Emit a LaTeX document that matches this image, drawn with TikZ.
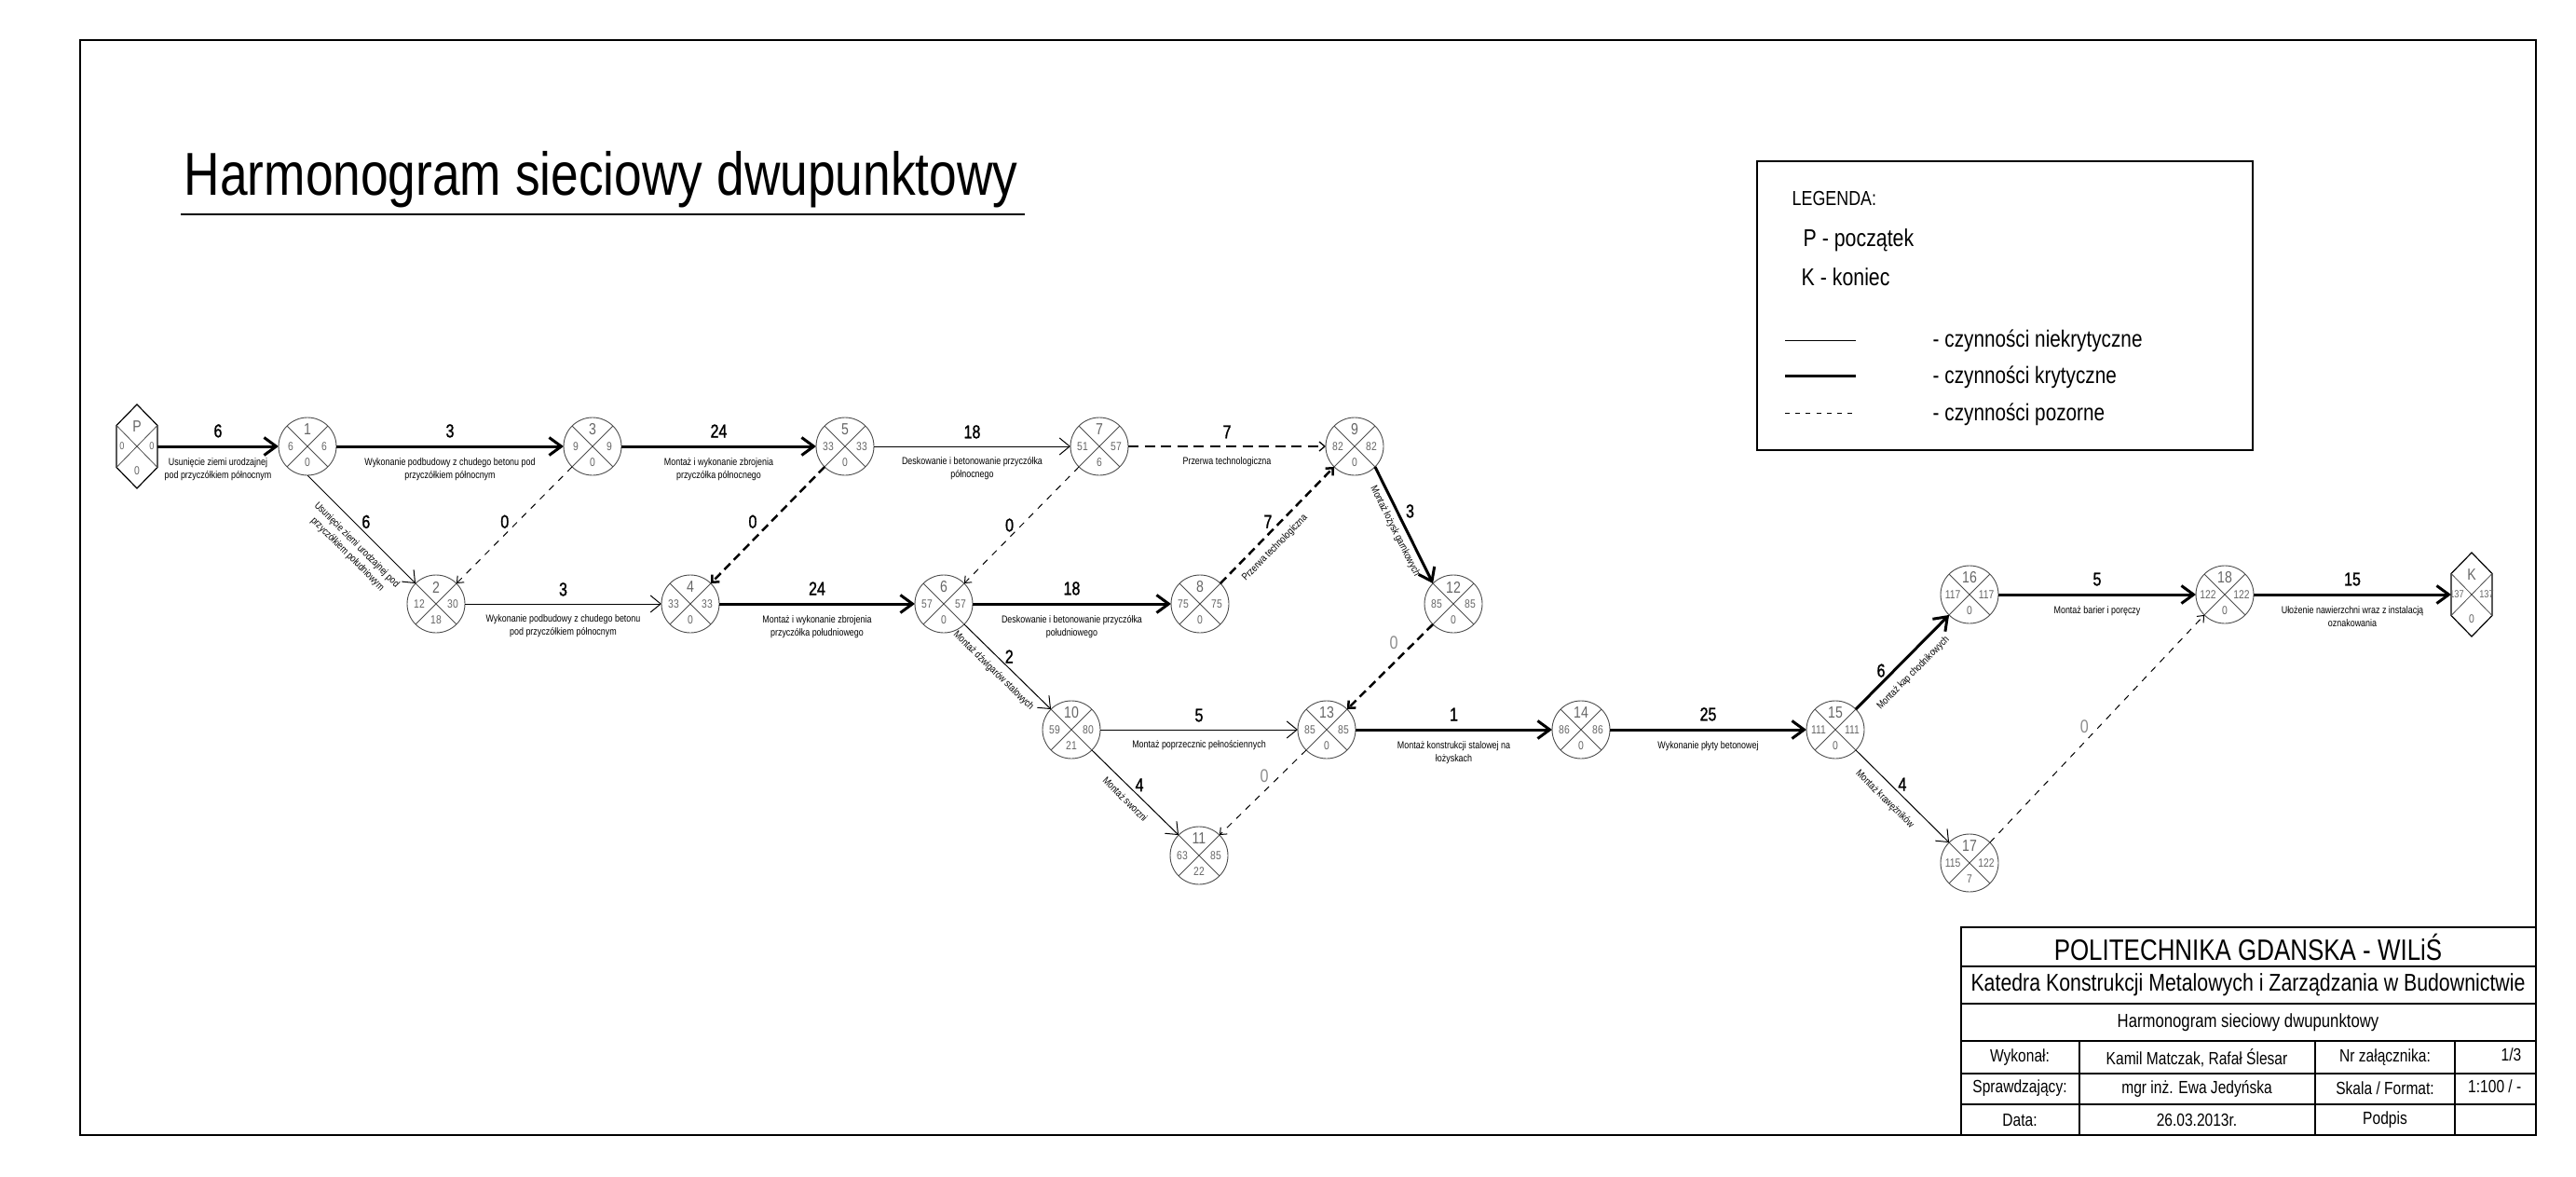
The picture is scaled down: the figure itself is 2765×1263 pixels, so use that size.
\documentclass[tikz,border=0pt]{standalone}
\usepackage{fontspec}
\setmainfont{Liberation Sans}[FakeStretch=0.82]
\newfontfamily\durfont{Liberation Sans}[FakeStretch=0.8, FakeBold=1.2]
\usetikzlibrary{arrows.meta}
\definecolor{evline}{gray}{0.3}
\definecolor{ntxt}{gray}{0.4}
\definecolor{zgray}{gray}{0.55}
\tikzset{
  ev/.style={circle, draw=evline, line width=0.09mm, minimum size=6.2mm, inner sep=0pt, outer sep=0pt},
  xl/.style={draw=evline, line width=0.08mm},
  hexbox/.style={rectangle, minimum width=4.4mm, minimum height=4.5mm, inner sep=0pt, outer sep=0pt},
  hexl/.style={line width=0.12mm, line join=miter},
  ntop/.style={text=ntxt, font=\fontsize{4.9pt}{5pt}\selectfont, inner sep=0pt},
  nval/.style={text=ntxt, font=\fontsize{3.6pt}{4pt}\selectfont, inner sep=0pt},
  kval/.style={text=ntxt, font=\fontsize{3.2pt}{4pt}\selectfont, inner sep=0pt},
  crit/.style={line width=0.3mm, -{Straight Barb[length=1.3mm, width=1.9mm]}},
  ncrit/.style={line width=0.1mm, -{Straight Barb[length=1.1mm, width=1.8mm]}},
  dthin/.style={line width=0.1mm, dash pattern=on 0.7mm off 0.7mm, -{Straight Barb[length=0.6mm, width=1mm]}},
  dthick/.style={line width=0.25mm, dash pattern=on 0.9mm off 0.55mm, -{Straight Barb[length=0.6mm, width=1.1mm]}},
  dmed/.style={line width=0.13mm, dash pattern=on 1.1mm off 0.65mm, -{Straight Barb[length=0.6mm, width=1mm]}},
  dur/.style={font=\durfont\fontsize{5.7pt}{6pt}\selectfont, inner sep=0.8mm},
  zero/.style={font=\fontsize{5.6pt}{6pt}\selectfont, text=zgray},
  desc/.style={font=\fontsize{3.1pt}{4pt}\selectfont, align=center, inner sep=1.1mm},
  sdesc/.style={font=\fontsize{3.1pt}{4pt}\selectfont, align=center, sloped, below},
  leg/.style={anchor=west, inner sep=0pt},
  tb/.style={inner sep=0pt},
}
\newcommand\netnode[7]{%
  \node[ev] (#1) at (#2,#3) {};
  \draw[xl] (#1.45) -- (#1.225) (#1.135) -- (#1.315);
  \node[ntop] (#1t) at (#2,#3-18) {#4};
  \node[nval] (#1l) at (#2-18,#3) {#5};
  \node[nval] (#1r) at (#2+18,#3) {#6};
  \node[nval] (#1b) at (#2,#3+17) {#7};
}
\newcommand\hexnode[7]{%
  \node[hexbox] (#1) at (#2,#3) {};
  \draw[hexl] (#1.north west) -- ++(22,-22.5) -- (#1.north east) -- (#1.south east) -- ++(-22,22.5) -- (#1.south west) -- cycle;
  \draw[xl] (#1.north west) -- (#1.south east) (#1.north east) -- (#1.south west);
  \node[ntop] (#1t) at (#2,#3-21) {#4};
  \node[kval] (#1l) at (#2-16,#3) {#5};
  \node[kval] (#1r) at (#2+16,#3) {#6};
  \node[nval] (#1b) at (#2,#3+26) {#7};
}
\begin{document}
\begin{tikzpicture}[x=0.1mm, y=-0.1mm]
\useasboundingbox (0,0) rectangle (2765,1263);
% frame
\draw[line width=0.15mm] (86,43) rectangle (2722,1218);
% title
\node[anchor=base west, inner sep=0pt, font=\fontsize{18.5pt}{20pt}\selectfont] (title) at (197,209) {Harmonogram sieciowy dwupunktowy};
\coordinate (ula) at (194,230); \coordinate (ulb) at (1100,230);
\draw[line width=0.12mm] (ula) -- (ulb);

% events
\hexnode{P}{147}{479}{P}{0}{0}{0}
\netnode{n1}{330}{479}{1}{6}{6}{0}
\netnode{n3}{636}{479}{3}{9}{9}{0}
\netnode{n5}{907}{479}{5}{33}{33}{0}
\netnode{n7}{1180}{479}{7}{51}{57}{6}
\netnode{n9}{1454}{479}{9}{82}{82}{0}
\netnode{n2}{468}{648}{2}{12}{30}{18}
\netnode{n4}{741}{648}{4}{33}{33}{0}
\netnode{n6}{1013}{648}{6}{57}{57}{0}
\netnode{n8}{1288}{648}{8}{75}{75}{0}
\netnode{n12}{1560}{648}{12}{85}{85}{0}
\netnode{n10}{1150}{783}{10}{59}{80}{21}
\netnode{n13}{1424}{783}{13}{85}{85}{0}
\netnode{n14}{1697}{783}{14}{86}{86}{0}
\netnode{n15}{1970}{783}{15}{111}{111}{0}
\netnode{n11}{1287}{918}{11}{63}{85}{22}
\netnode{n16}{2114}{638}{16}{117}{117}{0}
\netnode{n18}{2388}{638}{18}{122}{122}{0}
\netnode{n17}{2114}{926}{17}{115}{122}{7}
\hexnode{K}{2653}{638}{K}{137}{137}{0}

% horizontal activities
\draw[crit] (P.east) -- node[dur,above] (d01) {6} node[desc,below] (t01) {Usunięcie ziemi urodzajnej\\pod przyczółkiem północnym} (n1.west);
\draw[crit] (n1.east) -- node[dur,above] (d13) {3} node[desc,below] (t13) {Wykonanie podbudowy z chudego betonu pod\\przyczółkiem północnym} (n3.west);
\draw[crit] (n3.east) -- node[dur,above] (d35) {24} node[desc,below] (t35) {Montaż i wykonanie zbrojenia\\przyczółka północnego} (n5.west);
\draw[ncrit] (n5.east) -- node[dur,above] (d57) {18} node[desc,below] (t57) {Deskowanie i betonowanie przyczółka\\północnego} (n7.west);
\draw[dmed] (n7.east) -- node[dur,above] (d79) {7} node[desc,below] (t79) {Przerwa technologiczna} (n9.west);
\draw[ncrit] (n2.east) -- node[dur,above] (d24) {3} node[desc,below] (t24) {Wykonanie podbudowy z chudego betonu\\pod przyczółkiem północnym} (n4.west);
\draw[crit] (n4.east) -- node[dur,above] (d46) {24} node[desc,below] (t46) {Montaż i wykonanie zbrojenia\\przyczółka południowego} (n6.west);
\draw[crit] (n6.east) -- node[dur,above] (d68) {18} node[desc,below] (t68) {Deskowanie i betonowanie przyczółka\\południowego} (n8.west);
\draw[ncrit] (n10.east) -- node[dur,above] (d1013) {5} node[desc,below] (t1013) {Montaż poprzecznic pełnościennych} (n13.west);
\draw[crit] (n13.east) -- node[dur,above] (d1314) {1} node[desc,below] (t1314) {Montaż konstrukcji stalowej na\\łożyskach} (n14.west);
\draw[crit] (n14.east) -- node[dur,above] (d1415) {25} node[desc,below] (t1415) {Wykonanie płyty betonowej} (n15.west);
\draw[crit] (n16.east) -- node[dur,above] (d1618) {5} node[desc,below] (t1618) {Montaż barier i poręczy} (n18.west);
\draw[crit] (n18.east) -- node[dur,above] (d18K) {15} node[desc,below] (t18K) {Ułożenie nawierzchni wraz z instalacją\\oznakowania} (K.west);

% diagonal activities
\draw[ncrit] (n1.south) -- node[dur,pos=0.43,anchor=west] (d12) {6} node[sdesc,pos=0.55,inner sep=1.0mm] (t12) {Usunięcie ziemi urodzajnej pod\\przyczółkiem południowym} (n2.135);
\draw[dthin] (n3.225) -- node[dur,pos=0.47,anchor=east,inner sep=0.9mm] (d32) {0} (n2.45);
\draw[dthick] (n5.225) -- node[dur,pos=0.47,anchor=east,inner sep=1.4mm] (d54) {0} (n4.45);
\draw[dthin] (n7.225) -- node[dur,pos=0.5,anchor=east,inner sep=0.8mm] (d76) {0} (n6.45);
\draw[dthick] (n8.45) -- node[dur,pos=0.53,anchor=east] (d89) {7} node[sdesc,pos=0.39,inner sep=0.9mm] (t89) {Przerwa technologiczna} (n9.225);
\draw[crit] (n9.315) -- node[dur,pos=0.38,anchor=west] (d912) {3} node[sdesc,pos=0.51,inner sep=0.5mm] (t912) {Montaż łożysk garnkowych} (n12.135);
\draw[ncrit] (n6.315) -- node[dur,pos=0.38,anchor=west] (d610) {2} node[sdesc,pos=0.44,inner sep=0.8mm] (t610) {Montaż dźwigarów stalowych} (n10.135);
\draw[ncrit] (n10.315) -- node[dur,pos=0.41,anchor=west] (d1011) {4} node[sdesc,pos=0.48,inner sep=0.8mm] (t1011) {Montaż sworzni} (n11.135);
\draw[dthick] (n12.225) -- node[zero,pos=0.22,anchor=east,inner sep=1.6mm] (d1213) {0} (n13.45);
\draw[dthin] (n13.225) -- node[zero,pos=0.31,anchor=east,inner sep=1.1mm] (d1311) {0} (n11.45);
\draw[crit] (n15.45) -- node[dur,pos=0.41,anchor=east] (d1516) {6} node[sdesc,pos=0.5,inner sep=1.0mm] (t1516) {Montaż kap chodnikowych} (n16.225);
\draw[ncrit] (n15.315) -- node[dur,pos=0.37,anchor=west] (d1517) {4} node[sdesc,pos=0.42,inner sep=1.0mm] (t1517) {Montaż krawężników} (n17.135);
\draw[dthin] (n17.45) -- node[zero,pos=0.51,anchor=east,inner sep=1.1mm] (d1718) {0} (n18.225);

% legend
\draw[line width=0.12mm] (1886,173) rectangle (2418,483);
\node[leg, font=\fontsize{6.2pt}{7pt}\selectfont] (lg0) at (1923,213) {LEGENDA:};
\node[leg, font=\fontsize{7.4pt}{8pt}\selectfont] (lg1) at (1935,258) {P - początek};
\node[leg, font=\fontsize{7.4pt}{8pt}\selectfont] (lg2) at (1933,297) {K - koniec};
\coordinate (la1) at (1916,365); \coordinate (lb1) at (1992,365);
\coordinate (la2) at (1916,403); \coordinate (lb2) at (1992,403);
\coordinate (la3) at (1916,443); \coordinate (lb3) at (1992,443);
\draw[line width=0.1mm] (la1) -- (lb1);
\draw[line width=0.3mm] (la2) -- (lb2);
\draw[line width=0.1mm, dash pattern=on 0.5mm off 0.62mm] (la3) -- (lb3);
\node[leg, font=\fontsize{7.2pt}{8pt}\selectfont] (lg3) at (2074,366) {- czynności niekrytyczne};
\node[leg, font=\fontsize{7.2pt}{8pt}\selectfont] (lg4) at (2074,405) {- czynności krytyczne};
\node[leg, font=\fontsize{7.2pt}{8pt}\selectfont] (lg5) at (2074,445) {- czynności pozorne};

% title block
\draw[line width=0.12mm] (2105,995) rectangle (2722,1218);
\foreach \yy in {1037,1077,1117,1152,1185} {\draw[line width=0.12mm] (2105,\yy) -- (2722,\yy);}
\foreach \xx in {2232,2485,2635} {\draw[line width=0.12mm] (\xx,1117) -- (\xx,1218);}
\node[tb, font=\fontsize{9pt}{10pt}\selectfont] (tb1) at (2413,1016) {POLITECHNIKA GDANSKA - WILiŚ};
\node[tb, font=\fontsize{7.4pt}{8pt}\selectfont] (tb2) at (2413,1057) {Katedra Konstrukcji Metalowych i Zarządzania w Budownictwie};
\node[tb, font=\fontsize{5.8pt}{7pt}\selectfont] (tb3) at (2413,1097) {Harmonogram sieciowy dwupunktowy};
\begin{scope}[every node/.style={tb, font=\fontsize{5.4pt}{6pt}\selectfont}]
\node (c11) at (2168,1135) {Wykonał:};
\node (c21) at (2168,1168) {Sprawdzający:};
\node (c31) at (2168,1202) {Data:};
\node (c12) at (2358,1135) {Kamil Matczak, Rafał Ślesar};
\node (c22) at (2358,1168) {mgr inż. Ewa Jedyńska};
\node (c32) at (2358,1202) {26.03.2013r.};
\node (c13) at (2560,1135) {Nr załącznika:};
\node (c23) at (2560,1168) {Skala / Format:};
\node (c33) at (2560,1202) {Podpis};
\node[anchor=east] (c14) at (2707,1132) {1/3};
\node[anchor=east] (c24) at (2707,1166) {1:100 / -};
\end{scope}
\end{tikzpicture}
\end{document}
